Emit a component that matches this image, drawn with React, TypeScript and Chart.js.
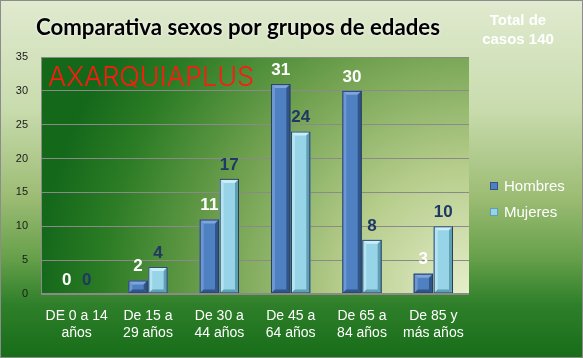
import { useEffect, useRef } from 'react';
import { Chart, registerables } from 'chart.js';

Chart.register(...registerables);

const categories: string[][] = [
  ['DE 0 a 14', 'años'],
  ['De 15 a', '29 años'],
  ['De 30 a', '44 años'],
  ['De 45 a', '64 años'],
  ['De 65 a', '84 años'],
  ['De 85 y', 'más años'],
];
const hombres = [0, 2, 11, 31, 30, 3];
const mujeres = [0, 4, 17, 24, 8, 10];
const seriesNames = ['Hombres', 'Mujeres'];
const yMin = 0;
const yMax = 35;
const yStep = 5;
const chartTitle = 'Comparativa sexos por grupos de edades';
const totalLines = ['Total de', 'casos 140'];
const watermark = 'AXARQUIAPLUS';

const W = 583;
const H = 358;

const seriesFill = ['#4f81c2', '#97d4e8'];
const seriesLight = ['#7ea6dc', '#c8eef8'];
const seriesDark = ['#2f5589', '#5e9fb4'];
const labelColors = ['#ffffff', '#1f3864'];

const decorPlugin = {
  id: 'decor',
  beforeDraw(chart: any) {
    const { ctx, chartArea: a } = chart;
    ctx.save();
    const g = ctx.createLinearGradient(0, 0, 0, H);
    g.addColorStop(0, '#e0eacf');
    g.addColorStop(0.3, '#c9dcae');
    g.addColorStop(0.55, '#9cbc74');
    g.addColorStop(0.72, '#67a04a');
    g.addColorStop(0.85, '#2f7f2a');
    g.addColorStop(1, '#176d18');
    ctx.fillStyle = g;
    ctx.fillRect(0, 0, W, H);
    const r = ctx.createRadialGradient(a.right, a.bottom, 0, a.right, a.bottom, 430);
    r.addColorStop(0, '#e6eecb');
    r.addColorStop(0.3, '#b5cc8a');
    r.addColorStop(0.6, '#6fa04e');
    r.addColorStop(0.85, '#2c7c25');
    r.addColorStop(1, '#14681a');
    ctx.fillStyle = r;
    ctx.fillRect(a.left, a.top, a.right - a.left, a.bottom - a.top);
    ctx.restore();
  },
  beforeDatasetsDraw(chart: any) {
    const { ctx, chartArea: a } = chart;
    ctx.save();
    ctx.font = '300 27px Inter, Lato, "Liberation Sans", sans-serif';
    ctx.fillStyle = '#ff1a10';
    ctx.textAlign = 'left';
    ctx.textBaseline = 'alphabetic';
    ctx.fillText(watermark, a.left + 7, a.top + 29, 211);
    ctx.restore();
  },
  afterDatasetsDraw(chart: any) {
    const { ctx } = chart;
    ctx.save();
    for (let d = 0; d < 2; d++) {
      const meta = chart.getDatasetMeta(d);
      meta.data.forEach((bar: any, i: number) => {
        const v = chart.data.datasets[d].data[i];
        const x0 = bar.x - bar.width / 2;
        const x1 = bar.x + bar.width / 2;
        const y0 = bar.y;
        const yb = bar.base;
        if (v > 0) {
          const b = Math.min(4, (yb - y0) / 2);
          ctx.fillStyle = seriesLight[d];
          ctx.beginPath();
          ctx.moveTo(x0, y0);
          ctx.lineTo(x1, y0);
          ctx.lineTo(x1 - b, y0 + b);
          ctx.lineTo(x0 + b, y0 + b);
          ctx.closePath();
          ctx.fill();
          ctx.globalAlpha = 0.6;
          ctx.beginPath();
          ctx.moveTo(x0, y0);
          ctx.lineTo(x0 + b, y0 + b);
          ctx.lineTo(x0 + b, yb - b);
          ctx.lineTo(x0, yb);
          ctx.closePath();
          ctx.fill();
          ctx.globalAlpha = 1;
          ctx.fillStyle = seriesDark[d];
          ctx.beginPath();
          ctx.moveTo(x1, y0);
          ctx.lineTo(x1 - b, y0 + b);
          ctx.lineTo(x1 - b, yb - b);
          ctx.lineTo(x1, yb);
          ctx.closePath();
          ctx.fill();
          ctx.beginPath();
          ctx.moveTo(x0, yb);
          ctx.lineTo(x0 + b, yb - b);
          ctx.lineTo(x1 - b, yb - b);
          ctx.lineTo(x1, yb);
          ctx.closePath();
          ctx.fill();
          ctx.strokeStyle = '#2a3f5a';
          ctx.lineWidth = 1;
          ctx.strokeRect(x0 + 0.5, y0 + 0.5, bar.width - 1, yb - y0 - 1);
        }
        ctx.font = 'bold 17px "Liberation Sans", Arial, sans-serif';
        ctx.fillStyle = labelColors[d];
        ctx.textAlign = 'center';
        ctx.textBaseline = 'middle';
        ctx.fillText(String(v), bar.x, y0 - 14);
      });
    }
    ctx.restore();
  },
  afterDraw(chart: any) {
    const { ctx, chartArea: a } = chart;
    ctx.save();
    ctx.strokeStyle = '#8a8a8a';
    ctx.lineWidth = 1;
    ctx.beginPath();
    ctx.moveTo(a.left + 0.5, a.bottom);
    ctx.lineTo(a.left + 0.5, a.top + 0.5);
    ctx.lineTo(a.right, a.top + 0.5);
    ctx.moveTo(a.left, a.bottom - 0.5);
    ctx.lineTo(a.right, a.bottom - 0.5);
    ctx.stroke();
    ctx.font = 'bold 23px Lato, "Open Sans", sans-serif';
    ctx.textAlign = 'center';
    ctx.textBaseline = 'middle';
    ctx.shadowColor = 'rgba(255,255,255,0.95)';
    ctx.shadowBlur = 3;
    ctx.fillStyle = '#000000';
    ctx.fillText(chartTitle, 238, 28, 404);
    ctx.shadowBlur = 0;
    ctx.font = 'bold 15px "Liberation Sans", Arial, sans-serif';
    ctx.fillStyle = '#ffffff';
    totalLines.forEach((t, i) => ctx.fillText(t, 518, 21 + i * 19));
    ctx.font = '15px "Liberation Sans", Arial, sans-serif';
    ctx.textAlign = 'left';
    seriesNames.forEach((n, i) => {
      const y = 186 + i * 26;
      ctx.fillStyle = seriesFill[i];
      ctx.fillRect(490, y - 4, 8, 8);
      ctx.strokeStyle = seriesDark[i];
      ctx.strokeRect(490.5, y - 3.5, 7, 7);
      ctx.fillStyle = '#ffffff';
      ctx.fillText(n, 504, y + 1);
    });
    ctx.strokeStyle = '#8c8c8c';
    ctx.strokeRect(0.5, 0.5, W - 1, H - 1);
    ctx.restore();
  },
};

export default function App() {
  const ref = useRef<HTMLCanvasElement | null>(null);
  useEffect(() => {
    document.body.style.margin = '0';
    const canvas = ref.current!;
    const chart = new Chart(canvas, {
      type: 'bar',
      data: {
        labels: categories as any,
        datasets: [
          { label: seriesNames[0], data: hombres, backgroundColor: seriesFill[0], borderWidth: 0 },
          { label: seriesNames[1], data: mujeres, backgroundColor: seriesFill[1], borderWidth: 0 },
        ],
      },
      options: {
        responsive: false,
        animation: false,
        devicePixelRatio: 1,
        layout: { padding: { top: 57, right: 114, left: 0, bottom: 0 } },
        plugins: { legend: { display: false }, tooltip: { enabled: false }, title: { display: false } },
        datasets: { bar: { categoryPercentage: 0.56, barPercentage: 0.97 } },
        scales: {
          x: {
            grid: { display: false, drawTicks: false },
            border: { display: false },
            ticks: {
              color: '#ffffff',
              font: { family: '"Liberation Sans", Arial, sans-serif', size: 14, lineHeight: 1.25 },
              padding: 13,
              maxRotation: 0,
              autoSkip: false,
            },
            afterFit: (s: any) => { s.height = 64; },
          },
          y: {
            min: yMin,
            max: yMax,
            grid: { color: '#8a8a8a', drawTicks: false, lineWidth: 1 },
            border: { display: false },
            ticks: {
              stepSize: yStep,
              color: '#1a1a1a',
              font: { family: '"Liberation Sans", Arial, sans-serif', size: 11 },
              padding: 13,
            },
            afterFit: (s: any) => { s.width = 41; },
          },
        },
      },
      plugins: [decorPlugin],
    });
    return () => chart.destroy();
  }, []);
  return <canvas ref={ref} width={W} height={H} style={{ display: 'block', width: W, height: H }} />;
}
